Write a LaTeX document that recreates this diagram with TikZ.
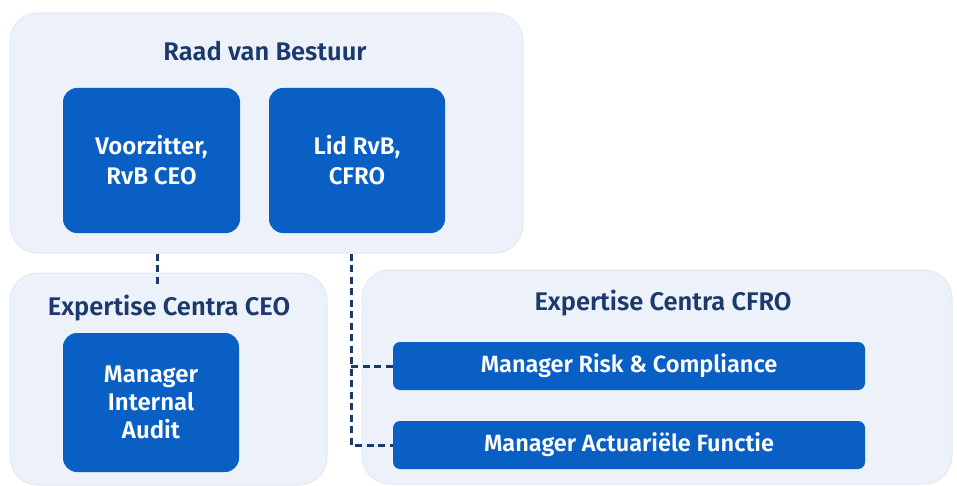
\documentclass[tikz,border=0pt]{standalone}
\usepackage{fontspec}
\setmainfont{Fira Sans}[BoldFont={Fira Sans SemiBold}]
\definecolor{boxblue}{HTML}{0A5FC4}
\definecolor{panel}{HTML}{EDF2FA}
\definecolor{paneledge}{HTML}{E2E9F4}
\definecolor{navy}{HTML}{1B3A6B}
\tikzset{
  panelbox/.style={draw=paneledge, line width=1pt, fill=panel, rounded corners=28pt, minimum width=#1},
  bluebox/.style={fill=boxblue, rounded corners=14pt, text=white, font=\bfseries\fontsize{24}{30}\selectfont, align=center, inner sep=0pt},
  widebox/.style={fill=boxblue, rounded corners=7pt, text=white, font=\bfseries\fontsize{23.5}{26}\selectfont, inner sep=0pt, minimum width=472pt, minimum height=48pt},
  paneltitle/.style={text=navy, font=\bfseries\fontsize{25.5}{28}\selectfont, inner sep=0pt},
  dashline/.style={draw=navy, line width=3pt, dash pattern=on 7pt off 4.5pt}
}
\begin{document}
\begin{tikzpicture}[x=1pt,y=-1pt]
\useasboundingbox (0,0) rectangle (957,486);
% panels
\node[panelbox=513pt, minimum height=240pt] (rvb) at (266.5,133) {};
\node[panelbox=317pt, minimum height=212pt] (ceo) at (168.5,379) {};
\node[panelbox=590pt, minimum height=214pt] (cfro) at (657,377) {};
% titles
\node[paneltitle] (rvbt) at (265,51) {Raad van Bestuur};
\node[paneltitle] (ceot) at (169,308) {Expertise Centra CEO};
\node[paneltitle] (cfrot) at (663,303) {Expertise Centra CFRO};
% boxes
\node[bluebox, minimum width=177pt, minimum height=145pt] (voor) at (151.5,160.5) {Voorzitter,\\RvB CEO};
\node[bluebox, minimum width=176pt, minimum height=145pt] (lid) at (357,160.5) {Lid RvB,\\CFRO};
\node[bluebox, font=\bfseries\fontsize{24}{28}\selectfont, minimum width=176pt, minimum height=139pt] (mia) at (151,402.5) {Manager\\Internal\\Audit};
\node[widebox] (risk) at (629,366) {Manager Risk \& Compliance};
\node[widebox] (act) at (629,445) {Manager Actuariële Functie};
% connectors
\coordinate (c1) at (157,287);
\coordinate (c2) at (351,445);
\draw[dashline] (c1 |- rvb.south) -- (c1);
\draw[dashline] (c2 |- rvb.south) -- (c2) -- (act.west);
\draw[dashline] (c2 |- risk.west) -- (risk.west);
\end{tikzpicture}
\end{document}
